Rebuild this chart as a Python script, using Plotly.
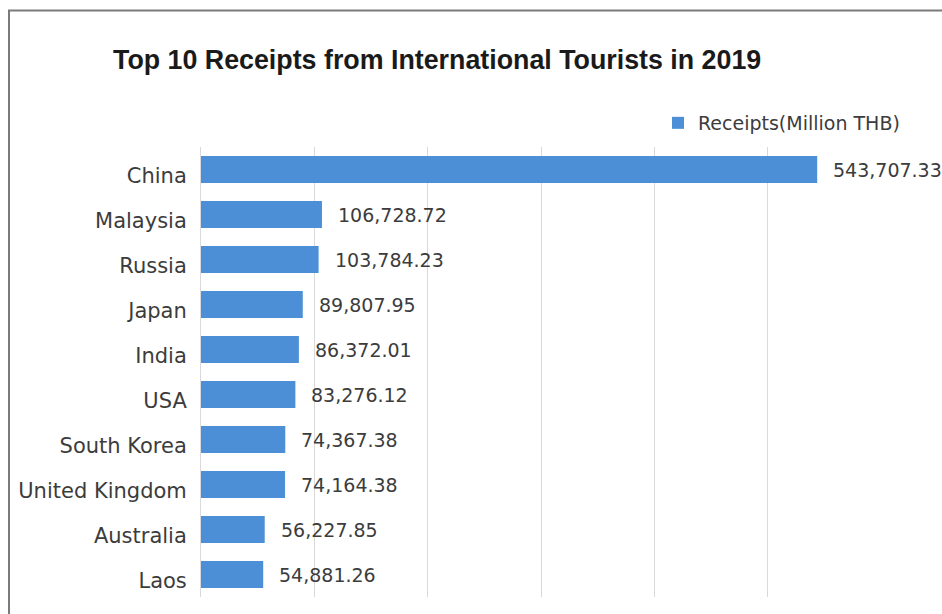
import plotly.graph_objects as go

# Top 10 source markets by tourism receipts, 2019
countries = ["China", "Malaysia", "Russia", "Japan", "India", "USA",
             "South Korea", "United Kingdom", "Australia", "Laos"]
receipts = [543707.33, 106728.72, 103784.23, 89807.95, 86372.01,
            83276.12, 74367.38, 74164.38, 56227.85, 54881.26]
series_name = "Receipts(Million THB)"
chart_title = "Top 10 Receipts from International Tourists in 2019"

W, H = 942, 614
L, R, T, B = 201, 61, 147, 17
plot_w, plot_h = W - L - R, H - T - B

BAR_BLUE = "#4d8fd6"
TEXT_GRAY = "#3c3c3c"
GRID_GRAY = "#d9d9d9"


def px_to_paper_x(px):
    return (px - L) / plot_w


def px_to_paper_y(py):
    return (H - B - py) / plot_h


fig = go.Figure()
fig.add_trace(go.Bar(
    x=receipts,
    y=countries,
    orientation="h",
    name=series_name,
    marker=dict(color=BAR_BLUE, line=dict(width=0)),
    showlegend=True,
))

# value labels just past the end of each bar
for c, v in zip(countries, receipts):
    fig.add_annotation(
        x=v, y=c, xref="x", yref="y",
        text=f"{v:,.2f}",
        showarrow=False,
        xanchor="left", yanchor="middle",
        xshift=14,
        font=dict(family="DejaVu Sans", size=19, color=TEXT_GRAY),
    )

# chart frame
fig.add_shape(
    type="rect", xref="paper", yref="paper",
    x0=px_to_paper_x(9), x1=px_to_paper_x(990),
    y0=px_to_paper_y(660), y1=px_to_paper_y(10.5),
    line=dict(color="#7a7a7a", width=2),
    fillcolor="rgba(0,0,0,0)",
    layer="above",
)

fig.update_layout(
    width=W, height=H,
    margin=dict(l=L, r=R, t=T, b=B, autoexpand=False),
    paper_bgcolor="white",
    plot_bgcolor="white",
    bargap=0.4,
    title=dict(
        text=f"<b>{chart_title}</b>",
        x=113 / W, xref="container", xanchor="left",
        y=1 - 60 / H, yref="container", yanchor="middle",
        font=dict(family="Liberation Sans", size=26.8, color="#1a1a1a"),
    ),
    legend=dict(
        orientation="h",
        x=px_to_paper_x(658), xanchor="left",
        y=px_to_paper_y(123), yanchor="middle",
        font=dict(family="DejaVu Sans", size=19, color=TEXT_GRAY),
        bgcolor="rgba(0,0,0,0)",
    ),
    xaxis=dict(
        range=[0, 600000],
        dtick=100000,
        showticklabels=False,
        showgrid=True,
        gridcolor=GRID_GRAY,
        gridwidth=1,
        zeroline=False,
        showline=False,
        ticks="",
        fixedrange=True,
    ),
    yaxis=dict(
        autorange="reversed",
        showline=True,
        linecolor=GRID_GRAY,
        linewidth=1,
        ticks="",
        ticklabelstandoff=9,
        ticklabelshift=-6,
        tickfont=dict(family="DejaVu Sans", size=21, color=TEXT_GRAY),
        fixedrange=True,
    ),
)

fig.write_html("out.html")
